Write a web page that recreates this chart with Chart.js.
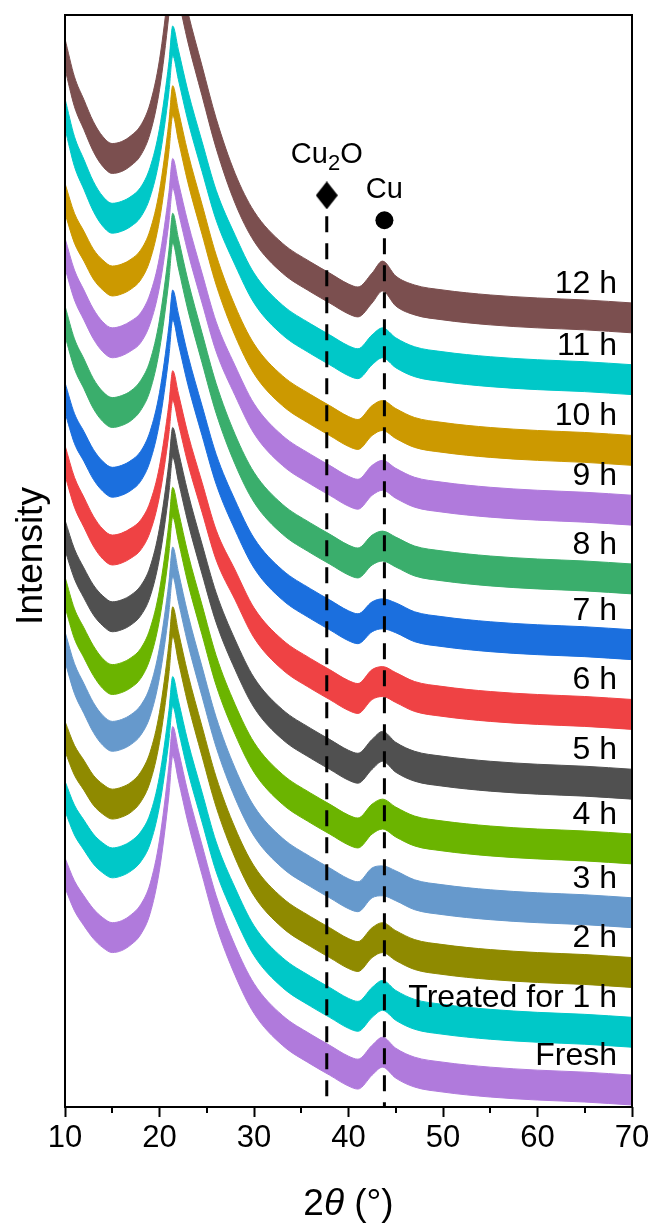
<!doctype html>
<html>

<head>
    <title>XRD</title>
    <script src="https://cdn.jsdelivr.net/npm/chart.js"></script>
</head>

<style>
    body {
        margin: 0;
        background: #fff;
    }

    #wrap {
        width: 655px;
        height: 1223px;
    }
</style>

<body>
    <div id="wrap"><canvas id="xrd"></canvas></div>

    <script>
        // 2theta positions (deg) where the patterns were read
        var angles = [10, 11, 12, 13, 14, 15, 16, 17, 18, 19, 20, 21, 21.4, 22, 23, 24.5, 26, 28, 30, 33, 36, 38, 40, 41, 42.5, 43.6, 45, 47, 50, 55, 60, 65, 70];

        // stacked intensities (arbitrary units, offset already included)
        var fresh = [235, 212, 197, 184, 175, 170, 172, 178, 188, 209, 253, 328, 367, 343, 301, 248, 197, 147, 109, 77, 58, 47, 36, 33, 47, 55, 44, 35, 30, 25, 22, 20, 17];
        var h1 = [312, 288, 273, 259, 250, 245, 247, 252, 261, 279, 317, 383, 417, 393, 352, 301, 251, 205, 167, 135, 116, 105, 94, 91, 105, 112, 102, 93, 88, 83, 80, 78, 75];
        var h2 = [372, 348, 333, 318, 309, 304, 306, 311, 321, 341, 381, 450, 487, 462, 420, 367, 316, 265, 227, 195, 176, 165, 154, 151, 165, 170, 162, 153, 148, 143, 140, 138, 135];
        var h3 = [462, 430, 410, 391, 378, 372, 374, 379, 388, 407, 446, 512, 547, 522, 480, 427, 376, 325, 287, 255, 236, 225, 214, 211, 225, 227, 222, 213, 208, 203, 200, 198, 195];
        var h4 = [517, 485, 466, 448, 435, 429, 431, 436, 445, 465, 504, 571, 607, 583, 541, 489, 438, 389, 351, 319, 300, 289, 278, 275, 289, 294, 286, 277, 272, 267, 264, 262, 259];
        var h5 = [574, 545, 526, 509, 498, 492, 494, 499, 508, 527, 566, 632, 667, 643, 602, 550, 501, 454, 416, 384, 365, 354, 343, 340, 354, 362, 351, 342, 337, 332, 329, 327, 324];
        var h6 = [649, 617, 597, 578, 565, 559, 561, 566, 574, 592, 628, 691, 724, 701, 661, 612, 564, 524, 486, 454, 435, 424, 413, 410, 424, 427, 421, 412, 407, 402, 399, 397, 394];
        var h7 = [712, 681, 663, 645, 633, 627, 629, 634, 643, 663, 702, 769, 805, 781, 740, 689, 640, 594, 556, 524, 505, 494, 483, 480, 492, 495, 491, 482, 477, 472, 469, 467, 464];
        var h8 = [789, 756, 736, 716, 703, 697, 699, 704, 714, 734, 775, 845, 882, 857, 815, 762, 711, 660, 622, 590, 571, 560, 549, 546, 559, 563, 557, 548, 543, 538, 535, 533, 530];
        var h9 = [857, 825, 805, 786, 773, 767, 769, 774, 782, 801, 838, 903, 937, 913, 873, 822, 773, 729, 691, 659, 640, 629, 618, 615, 629, 634, 626, 617, 612, 607, 604, 602, 599];
        var h10 = [912, 882, 864, 846, 835, 829, 831, 836, 845, 865, 905, 974, 1010, 985, 943, 891, 840, 789, 751, 719, 700, 689, 678, 675, 689, 694, 686, 677, 672, 667, 664, 662, 659];
        var h11 = [997, 959, 936, 914, 899, 892, 894, 899, 908, 928, 967, 1034, 1070, 1046, 1005, 954, 905, 860, 822, 790, 771, 760, 749, 746, 760, 767, 757, 748, 743, 738, 735, 733, 730];
        var h12 = [1057, 1019, 996, 974, 959, 952, 954, 960, 970, 992, 1036, 1112, 1152, 1127, 1084, 1030, 977, 922, 884, 852, 833, 822, 811, 808, 822, 834, 819, 810, 805, 800, 797, 795, 792];

        var series = [fresh, h1, h2, h3, h4, h5, h6, h7, h8, h9, h10, h11, h12];
        var names = ['Fresh', 'Treated for 1 h', '2 h', '3 h', '4 h', '5 h', '6 h', '7 h', '8 h', '9 h', '10 h', '11 h', '12 h'];
        var colors = ['#B07ADC', '#00C8C8', '#8F8A00', '#6699CC', '#6BB400', '#505050', '#EF4244',
            '#1B6FDE', '#3AAE6C', '#B07ADC', '#CC9900', '#00C8C8', '#7B4F4F'];

        // reference reflections
        var phaseNames = ['Cu2O', 'Cu'];
        var phaseAngles = [37.7, 43.8];
        var markerLevels = [915, 890];
        var lineTops = [894, 872];

        var xTicks = [10, 20, 30, 40, 50, 60, 70];
        var minorTicks = [15, 25, 35, 45, 55, 65];

        var FONT = '"Liberation Sans", Arial, sans-serif';
        var BAND = 15; // half height of the noise band

        // diamond marker (a bit taller than wide)
        var diamond = document.createElement('canvas');
        diamond.width = 22;
        diamond.height = 28;
        var dctx = diamond.getContext('2d');
        dctx.fillStyle = '#000';
        dctx.beginPath();
        dctx.moveTo(11, 0);
        dctx.lineTo(22, 14);
        dctx.lineTo(11, 28);
        dctx.lineTo(0, 14);
        dctx.closePath();
        dctx.fill();

        var datasets = [];

        // markers and dashed lines first so they sit on top
        datasets.push({
            data: [{ x: phaseAngles[0], y: markerLevels[0] }],
            showLine: false,
            pointStyle: diamond,
            pointRadius: 14
        });
        datasets.push({
            data: [{ x: phaseAngles[1], y: markerLevels[1] }],
            showLine: false,
            pointStyle: 'circle',
            pointRadius: 9,
            backgroundColor: '#000',
            borderWidth: 0
        });
        phaseAngles.forEach(function (a, i) {
            datasets.push({
                data: [{ x: a, y: lineTops[i] }, { x: a, y: 0 }],
                borderColor: '#000',
                borderWidth: 3,
                borderDash: [16, 11],
                pointRadius: 0,
                fill: false
            });
        });

        series.forEach(function (vals, i) {
            datasets.push({
                label: names[i],
                data: angles.map(function (a, k) { return { x: a, y: vals[k] + BAND }; }),
                borderColor: colors[i],
                backgroundColor: colors[i],
                borderWidth: 1,
                pointRadius: 0,
                cubicInterpolationMode: 'monotone',
                fill: '+1'
            });
            datasets.push({
                data: angles.map(function (a, k) { return { x: a, y: vals[k] - BAND }; }),
                borderColor: colors[i],
                borderWidth: 1,
                pointRadius: 0,
                cubicInterpolationMode: 'monotone',
                fill: false
            });
        });

        var decor = {
            id: 'decor',
            afterDatasetsDraw: function (chart) {
                var ctx = chart.ctx, xs = chart.scales.x, ys = chart.scales.y;
                ctx.save();
                ctx.fillStyle = '#000';

                // series labels
                ctx.font = '32px ' + FONT;
                ctx.textAlign = 'right';
                ctx.textBaseline = 'alphabetic';
                series.forEach(function (vals, i) {
                    ctx.fillText(names[i], xs.getPixelForValue(70) - 15, ys.getPixelForValue(vals[vals.length - 1]) - 25);
                });

                // phase labels, digits as subscripts
                var lift = [32, 22];
                ctx.textAlign = 'left';
                phaseNames.forEach(function (name, i) {
                    var parts = name.match(/[0-9]+|[^0-9]+/g);
                    var w = 0;
                    parts.forEach(function (p) {
                        ctx.font = (/[0-9]/.test(p) ? '22px ' : '29px ') + FONT;
                        w += ctx.measureText(p).width;
                    });
                    var x = xs.getPixelForValue(phaseAngles[i]) - w / 2;
                    var y = ys.getPixelForValue(markerLevels[i]) - lift[i];
                    parts.forEach(function (p) {
                        var sub = /[0-9]/.test(p);
                        ctx.font = (sub ? '22px ' : '29px ') + FONT;
                        ctx.fillText(p, x, sub ? y + 7 : y);
                        x += ctx.measureText(p).width;
                    });
                });
                ctx.restore();
            },
            afterDraw: function (chart) {
                var ctx = chart.ctx, a = chart.chartArea, xs = chart.scales.x;
                ctx.save();
                ctx.strokeStyle = '#000';
                ctx.lineWidth = 2;
                ctx.strokeRect(a.left, a.top, a.right - a.left, a.bottom - a.top);

                minorTicks.forEach(function (t) {
                    var px = Math.round(xs.getPixelForValue(t));
                    ctx.beginPath();
                    ctx.moveTo(px, a.bottom);
                    ctx.lineTo(px, a.bottom + 6);
                    ctx.stroke();
                });

                // axis titles
                ctx.fillStyle = '#000';
                ctx.textBaseline = 'alphabetic';
                var cx = (a.left + a.right) / 2;
                var runs = [['2', ''], ['\u03B8', 'italic '], [' (\u00B0)', '']];
                var tw = 0;
                runs.forEach(function (r) {
                    ctx.font = r[1] + '37px ' + FONT;
                    tw += ctx.measureText(r[0]).width;
                });
                var x = cx - tw / 2;
                runs.forEach(function (r) {
                    ctx.font = r[1] + '37px ' + FONT;
                    ctx.textAlign = 'left';
                    ctx.fillText(r[0], x, 1215);
                    x += ctx.measureText(r[0]).width;
                });

                ctx.translate(42, (a.top + a.bottom) / 2 - 5);
                ctx.rotate(-Math.PI / 2);
                ctx.textAlign = 'center';
                ctx.font = '37px ' + FONT;
                ctx.fillText('Intensity', 0, 0);
                ctx.restore();
            }
        };

        var grafico = new Chart(document.getElementById('xrd').getContext('2d'), {
            type: 'line',
            data: { datasets: datasets },
            plugins: [decor],
            options: {
                responsive: true,
                maintainAspectRatio: false,
                animation: false,
                layout: {
                    padding: { top: 11, right: 23, left: 0, bottom: 0 }
                },
                plugins: {
                    legend: { display: false },
                    tooltip: { enabled: false }
                },
                scales: {
                    x: {
                        type: 'linear',
                        min: 10,
                        max: 70,
                        afterFit: function (scale) { scale.height = 116; },
                        afterBuildTicks: function (scale) {
                            scale.ticks = xTicks.map(function (v) { return { value: v }; });
                        },
                        ticks: {
                            color: '#000',
                            padding: 3,
                            font: { family: FONT, size: 31 },
                            maxRotation: 0
                        },
                        grid: {
                            drawOnChartArea: false,
                            tickLength: 10,
                            tickWidth: 2,
                            tickColor: '#000'
                        },
                        border: { display: false }
                    },
                    y: {
                        min: 0,
                        max: 1096,
                        afterFit: function (scale) { scale.width = 65; },
                        ticks: { display: false },
                        grid: { display: false },
                        border: { display: false }
                    }
                }
            }
        });
    </script>
</body>

</html>
